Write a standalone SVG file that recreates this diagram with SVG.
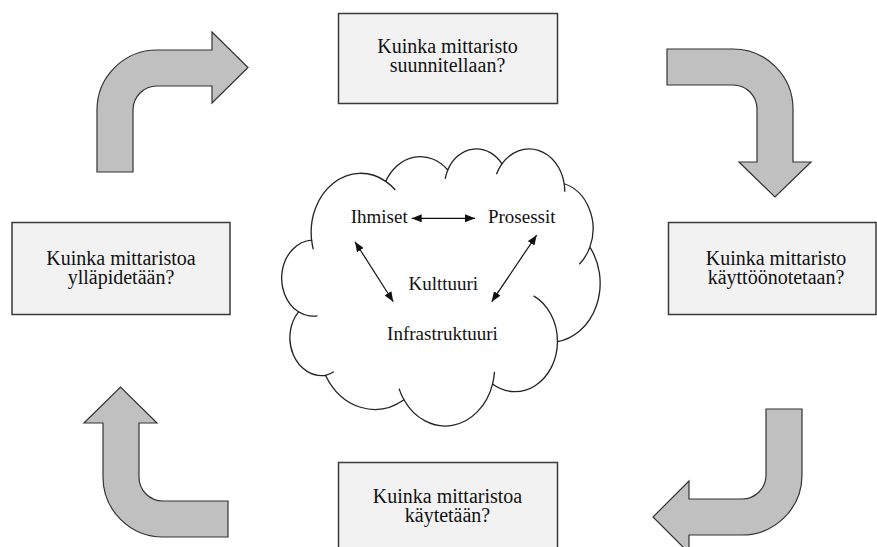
<svg xmlns="http://www.w3.org/2000/svg" width="877" height="547" viewBox="0 0 877 547">
  <style>
    .box { fill: #f2f2f2; stroke: #3a3a3a; stroke-width: 1.5; }
    .bent { fill: #c0c0c0; stroke: #333333; stroke-width: 1.2; stroke-linejoin: miter; }
    .btxt { font-size: 20px; fill: #111111; text-anchor: middle; }
    .ctxt { font-size: 19px; fill: #111111; text-anchor: middle; }
    .cloud { fill: #ffffff; stroke: #222222; stroke-width: 1.3; vector-effect: non-scaling-stroke; }
    .cloud-inner { fill: none; stroke: #222222; stroke-width: 1.3; vector-effect: non-scaling-stroke; }
    .link { stroke: #111111; stroke-width: 1.2; fill: none; }
  </style>
  <defs>
    <marker id="tip" viewBox="0 0 10 8" refX="10" refY="4" markerWidth="10" markerHeight="8" markerUnits="userSpaceOnUse" orient="auto-start-reverse">
      <path d="M0,0 L10,4 L0,8 Z" fill="#111111"/>
    </marker>
  </defs>

  <!-- bent cycle arrows -->
  <g id="cycle-arrows">
    <path id="arrow-top-left" class="bent" d="M97,172 L97,110 A60,60 0 0 1 157,50 L212,50 L212,32 L248,67.5 L212,103 L212,86 L157,86 A24,24 0 0 0 133,110 L133,172 Z"/>
    <path id="arrow-top-right" class="bent" d="M667,49 L733,49 A60,60 0 0 1 793,109 L793,162 L811,162 L775,197 L739,162 L757,162 L757,109 A24,24 0 0 0 733,85 L667,85 Z"/>
    <path id="arrow-bottom-right" class="bent" d="M802,409 L802,475 A60,60 0 0 1 742,535 L689,535 L689,553 L653,517 L689,481 L689,499 L742,499 A24,24 0 0 0 766,475 L766,409 Z"/>
    <path id="arrow-bottom-left" class="bent" d="M228,537 L163,537 A60,60 0 0 1 103,477 L103,423 L84,423 L120.5,387 L157,423 L139,423 L139,477 A24,24 0 0 0 163,501 L228,501 Z"/>
  </g>

  <!-- question boxes -->
  <g id="box-design" font-family="'Liberation Serif', 'DejaVu Serif', serif">
    <rect class="box" x="338.5" y="13.5" width="219" height="90"/>
    <text class="btxt"><tspan x="447.5" y="53">Kuinka mittaristo</tspan><tspan x="447.5" y="72">suunnitellaan?</tspan></text>
  </g>
  <g id="box-deploy" font-family="'Liberation Serif', 'DejaVu Serif', serif">
    <rect class="box" x="668.5" y="222.5" width="207.5" height="92"/>
    <text class="btxt"><tspan x="776" y="265">Kuinka mittaristo</tspan><tspan x="776" y="284">käyttöönotetaan?</tspan></text>
  </g>
  <g id="box-use" font-family="'Liberation Serif', 'DejaVu Serif', serif">
    <rect class="box" x="338.5" y="462.5" width="219" height="100"/>
    <text class="btxt"><tspan x="447.5" y="503">Kuinka mittaristoa</tspan><tspan x="447.5" y="522">käytetään?</tspan></text>
  </g>
  <g id="box-maintain" font-family="'Liberation Serif', 'DejaVu Serif', serif">
    <rect class="box" x="12" y="222.5" width="218" height="92"/>
    <text class="btxt"><tspan x="121" y="265">Kuinka mittaristoa</tspan><tspan x="121" y="284">ylläpidetään?</tspan></text>
  </g>

  <!-- culture cloud -->
  <g id="cloud" transform="translate(283,148) scale(0.007338,0.006412)">
    <path class="cloud" d="M3900,14370 A6753,9190 0 0 1 14005,5202 A5333,7267 0 0 1 22456,3432 A4365,5945 0 0 1 29833,2481 A4857,6595 0 0 1 38318,5576 A5333,7273 0 0 1 41818,15460 A6775,9220 0 0 1 37404,30203 A5785,7867 0 0 1 28556,36813 A6752,9215 0 0 1 16481,39264 A7720,10543 0 0 1 5805,35470 A4360,5918 0 0 1 2114,25548 A4345,5945 0 0 1 3900,14370 Z"/>
    <path class="cloud-inner" d="M4693,26177 A4345,5945 0 0 1 2114,25548 M6928,34899 A4360,5918 0 0 1 5805,35470 M16481,39264 A6752,9215 0 0 1 15813,37524 M28823,34904 A6752,9215 0 0 1 28556,36813 M34153,23067 A5785,7867 0 0 1 37404,30203 M41818,15460 A5333,7273 0 0 1 40371,18135 M38318,5576 A4857,6595 0 0 1 38395,6840 M29091,4092 A4857,6595 0 0 1 29833,2481 M22097,4822 A4365,5945 0 0 1 22456,3432 M14005,5202 A6753,9190 0 0 1 15305,6550 M4127,15789 A6753,9190 0 0 1 3900,14370"/>
  </g>

  <g id="cloud-labels" font-family="'Liberation Serif', 'DejaVu Serif', serif">
    <g id="node-ihmiset"><text class="ctxt" x="379.2" y="223.3">Ihmiset</text></g>
    <g id="node-prosessit"><text class="ctxt" x="521.7" y="223.3">Prosessit</text></g>
    <g id="node-kulttuuri"><text class="ctxt" x="443.3" y="290">Kulttuuri</text></g>
    <g id="node-infrastruktuuri"><text class="ctxt" x="442.5" y="339.5">Infrastruktuuri</text></g>
  </g>

  <!-- two-way links inside the cloud -->
  <g id="links">
    <line class="link" x1="411.7" y1="218.3" x2="475" y2="218.3" marker-start="url(#tip)" marker-end="url(#tip)"/>
    <line class="link" x1="355" y1="241.7" x2="393.3" y2="301.7" marker-start="url(#tip)" marker-end="url(#tip)"/>
    <line class="link" x1="536.7" y1="235" x2="491.7" y2="301.7" marker-start="url(#tip)" marker-end="url(#tip)"/>
  </g>
</svg>
